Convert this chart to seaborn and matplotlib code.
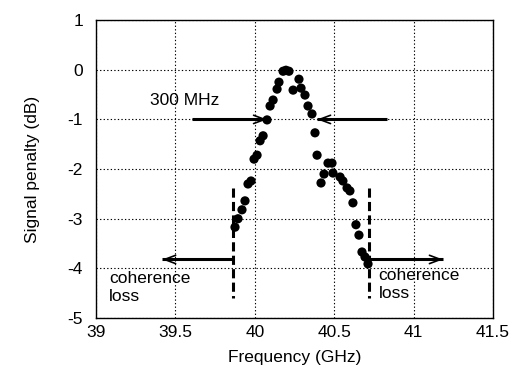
import matplotlib
matplotlib.use("Agg")
import matplotlib.pyplot as plt
import numpy as np
import pandas as pd
import seaborn as sns

# measured points (frequency in GHz, penalty in dB)
freq_ghz = [
    39.875, 39.894, 39.919, 39.938, 39.957, 39.976, 39.995, 40.014, 40.033, 40.052,
    40.077, 40.096, 40.115, 40.140, 40.152, 40.178, 40.196, 40.215,
    40.241, 40.278, 40.291, 40.316, 40.335, 40.360, 40.379, 40.392, 40.417, 40.436,
    40.461, 40.486, 40.492, 40.537, 40.555, 40.581, 40.599, 40.618, 40.637, 40.656,
    40.675, 40.694, 40.713,
]
penalty_db = [
    -3.17, -3.00, -2.82, -2.64, -2.30, -2.24, -1.80, -1.72, -1.43, -1.33,
    -1.01, -0.73, -0.61, -0.39, -0.25, -0.03, -0.01, -0.03,
    -0.41, -0.19, -0.37, -0.51, -0.73, -0.89, -1.27, -1.72, -2.28, -2.10,
    -1.88, -1.88, -2.08, -2.16, -2.24, -2.38, -2.44, -2.68, -3.12, -3.33,
    -3.67, -3.77, -3.91,
]

x_ticks = [39, 39.5, 40, 40.5, 41, 41.5]
x_tick_labels = ["39", "39.5", "40", "40.5", "41", "41.5"]
y_ticks = [1, 0, -1, -2, -3, -4, -5]

# annotation anchors
bw_left = (39.605, 40.077)
bw_right = (40.833, 40.392)
bw_level = -1.0
cut_left = 39.863
cut_right = 40.719
cut_span = (-2.38, -4.60)
loss_arrow_level = -3.82
loss_left_end = 39.416
loss_right_end = 41.185

sns.set_style("white")
plt.rcParams["font.family"] = ["Liberation Sans", "DejaVu Sans"]
plt.rcParams["axes.unicode_minus"] = False
plt.rcParams["text.color"] = "black"
plt.rcParams["axes.labelcolor"] = "black"

df = pd.DataFrame({"freq": freq_ghz, "penalty": penalty_db})

fig = plt.figure(figsize=(5.14, 3.72), dpi=100)
ax = fig.add_axes([0.187, 0.145, 0.772, 0.801])

sns.scatterplot(data=df, x="freq", y="penalty", color="black", s=44,
                edgecolor="none", ax=ax, zorder=3)

ax.set_xlim(39, 41.5)
ax.set_ylim(-5, 1)
ax.set_xticks(x_ticks)
ax.set_xticklabels(x_tick_labels)
ax.set_yticks(y_ticks)
ax.grid(True, color="black", linestyle=(0, (1.2, 2)), linewidth=0.8)
for sp in ax.spines.values():
    sp.set_color("black")
    sp.set_linewidth(1.0)
ax.tick_params(direction="in", length=4, width=1, color="black",
               labelsize=12.5, labelcolor="black")
ax.tick_params(axis="x", pad=5)
ax.tick_params(axis="y", pad=9.5)

ax.set_xlabel("Frequency (GHz)", fontsize=12.5, labelpad=7)
ax.set_ylabel("Signal penalty (dB)", fontsize=12.5, labelpad=20)


def arrow(x0, x1, y):
    # thick shaft with a thin open head, as in the original figure
    ax.plot([x0, x1], [y, y], color="black", lw=2.2, solid_capstyle="butt")
    ax.annotate("", xy=(x1, y), xytext=(x0 + 0.7 * (x1 - x0), y),
                arrowprops=dict(arrowstyle="->,head_length=0.8,head_width=0.3",
                                color="black", lw=1.2, shrinkA=0, shrinkB=0))


# 300 MHz bandwidth arrows
arrow(bw_left[0], bw_left[1], bw_level)
arrow(bw_right[0], bw_right[1], bw_level)
ax.text(39.34, -0.62, "300 MHz", fontsize=12.5, ha="left", va="center")

# coherence loss markers
for xc in (cut_left, cut_right):
    ax.plot([xc, xc], list(cut_span), color="black", lw=2.2,
            linestyle=(0, (3, 1.4)))
arrow(cut_left, loss_left_end, loss_arrow_level)
arrow(cut_right, loss_right_end, loss_arrow_level)
ax.text(39.08, -4.38, "coherence\nloss", fontsize=12.5, ha="left", va="center",
        linespacing=1.25)
ax.text(40.78, -4.33, "coherence\nloss", fontsize=12.5, ha="left", va="center",
        linespacing=1.25)

fig.savefig("out.png", dpi=100)
